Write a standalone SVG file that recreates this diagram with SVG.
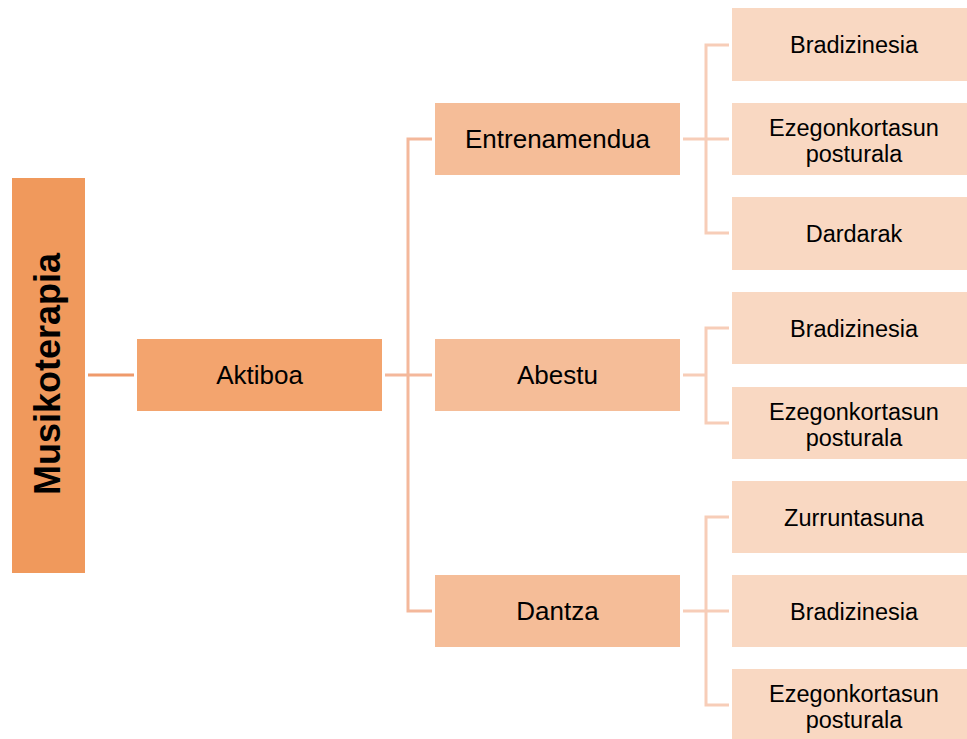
<svg xmlns="http://www.w3.org/2000/svg" width="967" height="739" viewBox="0 0 967 739">
<style>
text{font-family:"Liberation Sans",Arial,sans-serif;fill:#000;text-anchor:middle}
.l2t{font-size:26px}
.l3t{font-size:23.5px}
.c1{stroke:#EF9A6B;stroke-width:3;fill:none}
.c2{stroke:#F4B89B;stroke-width:3;fill:none}
.c3{stroke:#F7CDB8;stroke-width:3;fill:none}
.l2{fill:#F5BD98}
.l3{fill:#F9D8C2}
</style>
<rect width="967" height="739" fill="#fff"/>
<g id="connectors">
<path class="c1" d="M88 375H134"/>
<path class="c2" d="M385 375H432M432 139H408V611H432"/>
<path class="c3" d="M683 139H729M729 45H706V233H729"/>
<path class="c3" d="M683 375H706M729 328H706V423H729"/>
<path class="c3" d="M683 611H729M729 517H706V705H729"/>
</g>
<g id="musikoterapia">
<rect x="12" y="178" width="73" height="395" fill="#F0995C"/>
<text transform="rotate(-90 60 374)" x="60" y="374" font-size="36" font-weight="bold">Musikoterapia</text>
</g>
<g id="aktiboa">
<rect x="137" y="339" width="245" height="72" fill="#F3A46E"/>
<text class="l2t" x="259.5" y="383.5">Aktiboa</text>
</g>
<g id="entrenamendua">
<rect class="l2" x="435" y="103" width="245" height="72"/>
<text class="l2t" x="557.5" y="147.5">Entrenamendua</text>
</g>
<g id="abestu">
<rect class="l2" x="435" y="339" width="245" height="72"/>
<text class="l2t" x="557.5" y="383.5">Abestu</text>
</g>
<g id="dantza">
<rect class="l2" x="435" y="575" width="245" height="72"/>
<text class="l2t" x="557.5" y="619.5">Dantza</text>
</g>
<g id="e-bradizinesia">
<rect class="l3" x="732" y="8" width="240" height="73"/>
<text class="l3t" x="854" y="53">Bradizinesia</text>
</g>
<g id="e-ezegonkortasun">
<rect class="l3" x="732" y="103" width="240" height="72"/>
<text class="l3t" x="854" y="136">Ezegonkortasun</text>
<text class="l3t" x="854" y="162">posturala</text>
</g>
<g id="e-dardarak">
<rect class="l3" x="732" y="197" width="240" height="73"/>
<text class="l3t" x="854" y="242">Dardarak</text>
</g>
<g id="a-bradizinesia">
<rect class="l3" x="732" y="292" width="240" height="72"/>
<text class="l3t" x="854" y="337">Bradizinesia</text>
</g>
<g id="a-ezegonkortasun">
<rect class="l3" x="732" y="387" width="240" height="72"/>
<text class="l3t" x="854" y="420">Ezegonkortasun</text>
<text class="l3t" x="854" y="446">posturala</text>
</g>
<g id="d-zurruntasuna">
<rect class="l3" x="732" y="481" width="240" height="72"/>
<text class="l3t" x="854" y="526">Zurruntasuna</text>
</g>
<g id="d-bradizinesia">
<rect class="l3" x="732" y="575" width="240" height="72"/>
<text class="l3t" x="854" y="620">Bradizinesia</text>
</g>
<g id="d-ezegonkortasun">
<rect class="l3" x="732" y="669" width="240" height="75"/>
<text class="l3t" x="854" y="702">Ezegonkortasun</text>
<text class="l3t" x="854" y="728">posturala</text>
</g>
</svg>
